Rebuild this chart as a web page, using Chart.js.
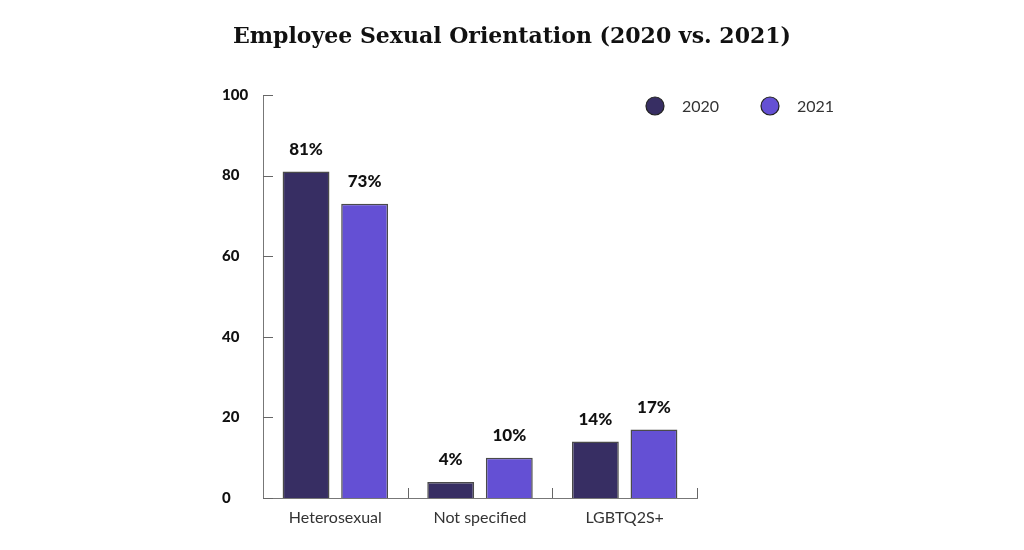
<!DOCTYPE html>
<html>
<head>
<meta charset="utf-8">
<script src="https://cdn.jsdelivr.net/npm/chart.js@4"></script>
<style>
  html, body { margin: 0; padding: 0; background: #fff; }
  #wrap { position: relative; width: 1024px; height: 550px; }
</style>
</head>
<body>
<div id="wrap"><canvas id="chart"></canvas></div>
<script>
const categories = ["Heterosexual", "Not specified", "LGBTQ2S+"];
const values2020 = [81, 4, 14];
const values2021 = [73, 10, 17];
const yTicks = [0, 20, 40, 60, 80, 100];
const chartTitle = "Employee Sexual Orientation (2020 vs. 2021)";

const colors = { y2020: "#372e63", y2021: "#6450d4", border: "#4a4a4a" };

// title centred on the whole canvas, not on the padded plot
const pageTitle = {
  id: "pageTitle",
  afterDraw(chart) {
    const ctx = chart.ctx;
    ctx.save();
    ctx.font = "900 22px 'DejaVu Serif'";
    ctx.fillStyle = "#111";
    ctx.textAlign = "center";
    ctx.textBaseline = "middle";
    ctx.fillText(chartTitle, chart.width / 2, 37);
    ctx.restore();
  }
};

// ticks pointing into the plot, drawn from the scales
const innerTicks = {
  id: "innerTicks",
  afterDatasetsDraw(chart) {
    const ctx = chart.ctx;
    const x = chart.scales.x, y = chart.scales.y;
    ctx.save();
    ctx.strokeStyle = "#666";
    ctx.lineWidth = 1;
    ctx.beginPath();
    yTicks.forEach(v => {
      const py = Math.round(y.getPixelForValue(v)) + 0.5;
      ctx.moveTo(x.left, py);
      ctx.lineTo(x.left + 10, py);
    });
    const step = x.getPixelForTick(1) - x.getPixelForTick(0);
    for (let i = 0; i < categories.length; i++) {
      const px = Math.round(x.getPixelForTick(i) + step / 2) + 0.5;
      ctx.moveTo(px, y.bottom);
      ctx.lineTo(px, y.bottom - 10);
    }
    ctx.stroke();
    ctx.restore();
  }
};

const valueLabels = {
  id: "valueLabels",
  afterDatasetsDraw(chart) {
    const ctx = chart.ctx;
    ctx.save();
    ctx.font = "900 17px Lato";
    ctx.fillStyle = "#111";
    ctx.textAlign = "center";
    ctx.textBaseline = "middle";
    chart.data.datasets.forEach((ds, di) => {
      chart.getDatasetMeta(di).data.forEach((bar, i) => {
        ctx.fillText(ds.data[i] + "%", bar.x, bar.y - 22);
      });
    });
    ctx.restore();
  }
};

const dotLegend = {
  id: "dotLegend",
  afterDraw(chart) {
    const ctx = chart.ctx;
    const spots = [655, 770];
    ctx.save();
    ctx.font = "16px Lato";
    ctx.textBaseline = "middle";
    chart.data.datasets.forEach((ds, i) => {
      ctx.beginPath();
      ctx.arc(spots[i], 106, 9, 0, Math.PI * 2);
      ctx.fillStyle = ds.backgroundColor;
      ctx.fill();
      ctx.lineWidth = 1.2;
      ctx.strokeStyle = "#222";
      ctx.stroke();
      ctx.fillStyle = "#333";
      ctx.fillText(ds.label, spots[i] + 27, 107);
    });
    ctx.restore();
  }
};

new Chart(document.getElementById("chart"), {
  type: "bar",
  data: {
    labels: categories,
    datasets: [
      { label: "2020", data: values2020, backgroundColor: colors.y2020,
        borderColor: colors.border, borderWidth: 1.5 },
      { label: "2021", data: values2021, backgroundColor: colors.y2021,
        borderColor: colors.border, borderWidth: 1.5 }
    ]
  },
  options: {
    responsive: true,
    maintainAspectRatio: false,
    animation: false,
    categoryPercentage: 0.81,
    barPercentage: 0.8,
    layout: { padding: { left: 222, right: 327, top: 95, bottom: 0 } },
    plugins: {
      legend: { display: false },
      tooltip: { enabled: false },
      title: { display: false }
    },
    scales: {
      x: {
        afterFit(scale) { scale.height = 52; },
        grid: { display: false, drawTicks: false },
        border: { display: true, color: "#777", width: 1 },
        ticks: { color: "#333", padding: 10, font: { family: "Lato", size: 16 } }
      },
      y: {
        min: 0,
        max: 100,
        afterFit(scale) { scale.width = 41; },
        afterBuildTicks(scale) { scale.ticks = yTicks.map(v => ({ value: v })); },
        grid: { display: false, drawTicks: false },
        border: { display: true, color: "#777", width: 1 },
        ticks: { color: "#111", crossAlign: "far", padding: 0,
          font: { family: "Lato", size: 15, weight: "900" } }
      }
    }
  },
  plugins: [pageTitle, innerTicks, valueLabels, dotLegend]
});
</script>
</body>
</html>
